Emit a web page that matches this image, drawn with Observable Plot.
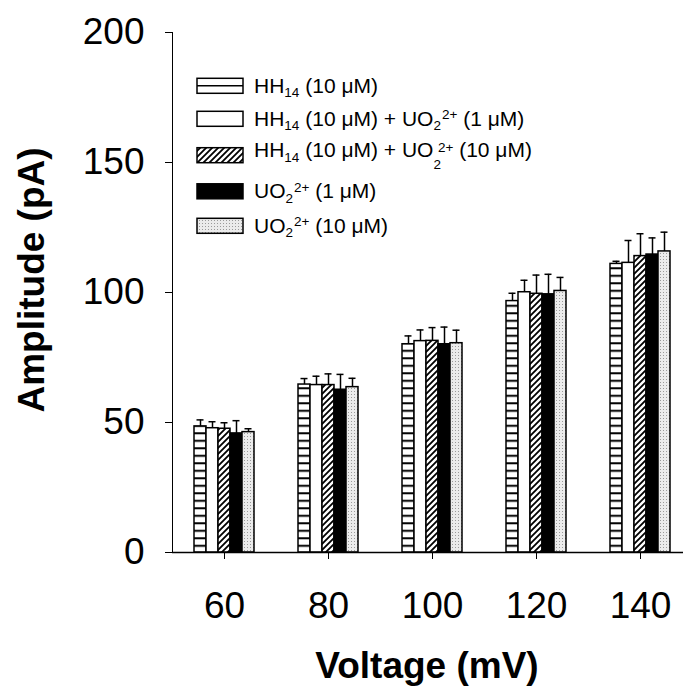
<!DOCTYPE html>
<html><head><meta charset="utf-8">
<script src="https://cdn.jsdelivr.net/npm/d3@7"></script>
<script src="https://cdn.jsdelivr.net/npm/@observablehq/plot@0.6"></script>
<style>
html,body{margin:0;padding:0;background:#fff;overflow:hidden}
#wrap{position:relative;width:683px;height:694px;background:#fff}
#wrap > svg{position:absolute;left:0;top:0}
</style></head><body>
<svg width="0" height="0" style="position:absolute">
<defs>
 <pattern id="pHoriz" patternUnits="userSpaceOnUse" width="8" height="7.5"><rect width="8" height="7.5" fill="#fff"/><rect y="4.8" width="8" height="2" fill="#000"/></pattern>
 <pattern id="pDiag" patternUnits="userSpaceOnUse" width="6" height="6"><rect width="6" height="6" fill="#fff"/><path d="M-1,7 L7,-1 M-1,1 L1,-1 M5,7 L7,5" stroke="#000" stroke-width="1.8"/></pattern>
 <pattern id="pDots" patternUnits="userSpaceOnUse" width="3" height="3"><rect width="3" height="3" fill="#ebebeb"/><rect x="1" y="1" width="1" height="1" fill="#9a9a9a"/></pattern>
</defs></svg>
<div id="wrap"></div>
<script>
// ---- data ----
const voltages = [60, 80, 100, 120, 140];
const seriesKeys = ["HH14 10uM", "HH14 + UO2 1uM", "HH14 + UO2 10uM", "UO2 1uM", "UO2 10uM"];
const yTicks = [0, 50, 100, 150, 200];
const xTitle = "Voltage (mV)";
const yTitle = "Amplitude (pA)";

const hh14      = [48.5, 64.6, 80.1, 96.7, 111.0];
const hh14Err   = [2.5, 2.3, 3.2, 3.0, 1.0];
const hh14U1    = [47.8, 64.4, 81.3, 100.1, 111.4];
const hh14U1Err = [2.5, 3.4, 4.3, 4.6, 8.6];
const hh14U10   = [47.6, 64.4, 81.4, 99.5, 114.0];
const hh14U10Err= [2.3, 4.3, 5.1, 7.2, 8.6];
const u1        = [45.8, 62.6, 80.1, 99.3, 114.6];
const u1Err     = [4.9, 5.9, 6.6, 7.7, 6.4];
const u10       = [46.3, 63.6, 80.5, 100.6, 115.8];
const u10Err    = [1.3, 3.4, 5.0, 5.2, 7.4];

const legendLabels = [
  [["HH"],["14","sub"],[" (10 μM)"]],
  [["HH"],["14","sub"],[" (10 μM) + UO"],["2","sub"],["2+","sup"],[" (1 μM)"]],
  [["HH"],["14","sub"],[" (10 μM) + UO"],["2","sub"],["2+","sup"],[" (10 μM)"]],
  [["UO"],["2","sub"],["2+","sup"],[" (1 μM)"]],
  [["UO"],["2","sub"],["2+","sup"],[" (10 μM)"]]
];

const seriesValues = [hh14, hh14U1, hh14U10, u1, u10];
const seriesErrors = [hh14Err, hh14U1Err, hh14U10Err, u1Err, u10Err];
const seriesFills = ["url(#pHoriz)", "#ffffff", "url(#pDiag)", "#000000", "url(#pDots)"];

const data = voltages.flatMap((v, j) => seriesKeys.map((s, i) => ({
  voltage: v, series: s, value: seriesValues[i][j], err: seriesErrors[i][j]
})));

const chart = Plot.plot({
  width: 683, height: 694,
  marginTop: 32, marginBottom: 142, marginLeft: 172, marginRight: 0,
  style: {fontFamily: "'Liberation Sans', Arial, sans-serif", fontSize: "37px", background: "transparent", color: "#000"},
  fx: {domain: voltages, range: [172, 692], padding: 0, axis: "bottom", tickSize: 7, tickPadding: 32, label: null},
  x: {domain: seriesKeys, axis: null, paddingInner: 0, paddingOuter: 1.63},
  y: {domain: [0, 200], ticks: yTicks, tickSize: 7, tickPadding: 21, label: null, line: true},
  marks: [
    ...seriesKeys.map((s, i) => Plot.barY(data.filter(d => d.series === s), {
      fx: "voltage", x: "series", y: "value", fill: seriesFills[i], stroke: "#000", strokeWidth: 1.5
    })),
    Plot.ruleX(data, {fx: "voltage", x: "series", y1: "value", y2: d => d.value + d.err, stroke: "#000", strokeWidth: 1.5}),
    Plot.tickY(data, {fx: "voltage", x: "series", y: d => d.value + d.err, insetLeft: 2.5, insetRight: 2.5, stroke: "#000", strokeWidth: 1.5}),
    Plot.ruleY([0], {stroke: "#000", strokeWidth: 1.5})
  ]
});

const svg = d3.select(chart);
svg.append("text")
  .attr("transform", "translate(44,280) rotate(-90)")
  .attr("text-anchor", "middle").attr("font-weight", "bold").attr("font-size", 37)
  .attr("fill", "#000").text(yTitle);
svg.append("text")
  .attr("x", 427).attr("y", 678)
  .attr("text-anchor", "middle").attr("font-weight", "bold").attr("font-size", 37)
  .attr("fill", "#000").text(xTitle);

const wrap = document.getElementById("wrap");
wrap.appendChild(chart);

// ---- legend overlay ----
const leg = d3.create("svg").attr("width", 683).attr("height", 694)
  .style("pointer-events", "none")
  .attr("font-family", "'Liberation Sans', Arial, sans-serif");
const centers = [85.8, 118.8, 155.2, 191.3, 225.8];
legendLabels.forEach((parts, i) => {
  const cy = centers[i];
  leg.append("rect").attr("x", 197).attr("y", cy - 7.5).attr("width", 46).attr("height", 15)
    .attr("fill", i === 0 ? "#fff" : seriesFills[i]).attr("stroke", "#000").attr("stroke-width", 1.5);
  if (i === 0) leg.append("line").attr("x1", 197).attr("x2", 243).attr("y1", cy).attr("y2", cy)
    .attr("stroke", "#000").attr("stroke-width", 1.5);
  const quirk = i === 2;
  const t = leg.append("text").attr("x", 254).attr("y", cy + (quirk ? 2 : 7)).attr("font-size", 21).attr("fill", "#000");
  let cur = 0;
  parts.forEach(([txt, role]) => {
    let target = 0, size = 21, dx = 0;
    if (role === "sub") { target = (quirk && txt === "2") ? 12 : 4.5; size = 13.5; }
    if (role === "sup") { target = quirk ? -5 : -6.5; size = 13.5; dx = quirk ? -3 : 1; }
    const ts = t.append("tspan").attr("dy", target - cur).attr("font-size", size).text(txt);
    if (dx) ts.attr("dx", dx);
    cur = target;
  });
});
wrap.appendChild(leg.node());
</script>
</body></html>
